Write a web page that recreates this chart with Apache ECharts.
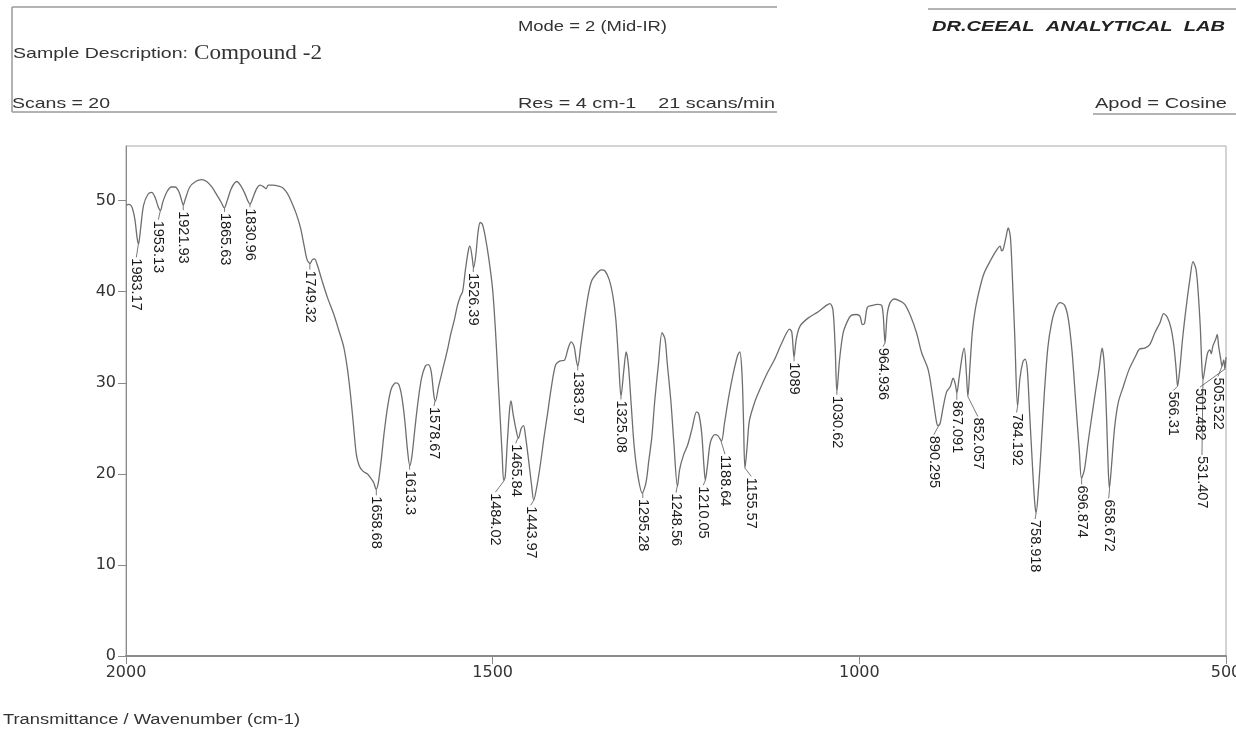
<!DOCTYPE html>
<html><head><meta charset="utf-8">
<script src="https://cdn.jsdelivr.net/npm/echarts@6/dist/echarts.min.js"></script>
<style>html,body{margin:0;padding:0;background:#fff;}#c{width:1236px;height:731px;}</style>
</head><body><div id="c"></div>
<script>
// ---- data ----
const wavenumbers = [2000,1996,1992,1988,1985,1983,1980,1976,1970,1965,1960,1956,1953,1950,1944,1938,1933,1928,1924,1922,1919,1913,1905,1897,1890,1883,1876,1870,1866,1862,1856,1849,1844,1838,1834,1831,1827,1822,1817,1812,1809,1806,1800,1792,1786,1780,1775,1768,1762,1757,1753,1749,1746,1743,1739,1733,1725,1717,1710,1703,1698,1694,1690,1686,1682,1677,1671,1666,1662,1659,1656,1652,1648,1643,1638,1632,1628,1624,1620,1616,1613,1610,1606,1602,1597,1592,1588,1584,1580,1578,1574,1568,1562,1557,1552,1548,1544,1541,1537,1533,1531,1528,1526,1523,1520,1517,1514,1510,1505,1500,1496,1493,1490,1487,1485,1483,1480,1477,1475,1472,1468,1465,1461,1458,1455,1451,1447,1444,1440,1435,1430,1425,1420,1414,1408,1402,1397,1393,1389,1386,1384,1380,1375,1370,1365,1358,1352,1347,1341,1336,1332,1328,1325,1321,1318,1315,1311,1307,1302,1296,1291,1287,1283,1279,1274,1269,1265,1262,1257,1253,1248,1245,1240,1234,1228,1222,1219,1215,1212,1210,1207,1203,1197,1193,1188,1184,1178,1172,1166,1163,1160,1158,1156,1153,1150,1143,1136,1126,1116,1105,1095,1092,1089,1086,1081,1070,1056,1045,1040,1036,1033,1030.6,1027,1022,1016,1011,1004,999,996,993,989,982,975,969,966,964.9,962,958,952,945,938,930,922,915,906,900,895,893,890,886,881,876,872,869,867,864,860,857,854,852,849,846,842,836,830,822,815,808,806,804,800,797,794,791,788,784.2,781,777,774,771,768,764,761,759,756,752,748,743,738,732,726,720,715,710,705,700,697,693,688,683,678,673,669,666,663,661,659,656,652,647,640,632,624,618,611,604,597,590,585,580,575,571,568,566,563,559,554,549,545,541,538,535,533,531.4,528,525,522,520,518,514,512,510,507,505.5,503,501.5,500];
const transmittance = [49.5,49.6,49.3,48.0,46.0,45.2,47.0,49.5,50.7,50.9,50.3,49.3,48.9,49.8,51.0,51.5,51.5,51.0,50.0,49.5,50.2,51.5,52.1,52.3,52.1,51.5,50.6,49.8,49.2,50.0,51.4,52.1,51.7,50.8,50.0,49.6,50.3,51.3,51.7,51.5,51.3,51.7,51.7,51.6,51.4,50.8,50.0,48.6,47.0,45.0,43.5,43.1,43.5,43.6,42.9,41.3,39.3,37.6,35.8,33.9,31.5,28.8,25.5,22.2,20.9,20.3,20.0,19.5,19.0,18.3,19.0,21.5,24.5,27.5,29.4,30.0,29.8,28.5,26.0,22.5,20.9,22.0,25.0,27.8,30.5,31.8,32.0,31.3,28.5,28.0,29.5,31.5,33.5,35.4,37.0,38.5,39.5,40.0,42.5,44.6,45.0,43.8,42.6,44.0,46.5,47.6,47.4,46.0,43.5,40.2,35.5,31.0,26.5,22.0,19.3,19.6,23.5,27.0,28.0,26.5,24.8,23.9,25.0,25.3,24.0,21.5,18.8,17.1,18.5,21.0,24.0,26.7,29.5,32.0,32.4,32.5,33.8,34.5,34.0,32.5,31.8,34.0,36.9,39.5,41.2,42.0,42.4,42.3,41.3,39.5,36.9,32.0,28.5,31.5,33.4,32.0,27.5,23.0,19.8,17.9,19.0,21.5,24.0,28.0,32.0,35.5,34.8,32.2,28.0,23.5,18.6,20.5,22.0,23.2,25.0,26.8,26.6,24.5,21.0,19.3,21.0,23.5,24.3,24.2,23.6,25.5,28.5,31.0,33.0,33.4,31.0,26.0,20.6,23.0,25.8,27.8,29.2,31.0,32.5,34.5,35.9,35.5,32.8,34.8,36.2,37.1,37.8,38.5,38.7,38.0,34.0,29.0,32.5,35.5,36.8,37.4,37.5,37.3,36.4,36.5,38.3,38.5,38.6,38.4,35.5,34.4,37.5,38.8,39.2,39.0,38.6,37.3,35.5,33.3,31.4,28.5,25.8,25.3,25.5,27.2,29.0,29.6,30.5,29.8,28.9,30.5,32.8,33.8,31.0,28.5,32.0,35.5,38.0,40.3,42.0,43.3,44.3,45.0,44.5,44.6,46.0,47.0,46.0,41.0,35.0,27.4,30.5,32.3,32.6,31.5,27.0,21.0,17.0,15.7,18.0,23.0,28.5,33.8,36.5,38.2,38.8,38.5,37.0,33.5,28.0,22.5,19.5,20.5,23.5,26.3,29.0,31.5,33.8,32.0,26.5,21.5,18.4,21.0,25.0,27.8,29.6,31.5,32.8,33.7,33.8,34.2,35.5,36.6,37.6,37.2,36.0,34.0,31.5,29.6,31.5,35.0,38.5,41.5,43.3,42.5,40.0,36.0,32.0,30.3,32.0,33.3,33.6,33.2,34.0,34.8,35.3,34.0,32.5,31.8,32.5,31.5,32.8];

const peakLabels = ['1983.17','1953.13','1921.93','1865.63','1830.96','1749.32','1658.68','1613.3','1578.67','1526.39','1484.02','1465.84','1443.97','1383.97','1325.08','1295.28','1248.56','1210.05','1188.64','1155.57','1089','1030.62','964.936','890.295','867.091','852.057','784.192','758.918','696.874','658.672','566.31','531.407','505.522','501.482'];
const peakWavenumbers = [1983.17,1953.13,1921.93,1865.63,1830.96,1749.32,1658.68,1613.3,1578.67,1526.39,1484.02,1465.84,1443.97,1383.97,1325.08,1295.28,1248.56,1210.05,1188.64,1155.57,1089,1030.62,964.936,890.295,867.091,852.057,784.192,758.918,696.874,658.672,566.31,531.407,505.522,501.482];
const peakTransmittance = [45.2,48.9,49.5,49.2,49.6,43.1,18.3,20.9,28.0,42.6,19.3,23.9,17.1,31.8,28.5,17.9,18.6,19.3,23.6,20.6,32.8,29.0,34.4,25.5,28.9,28.5,27.4,15.7,19.5,18.4,29.6,30.3,31.8,31.5];

const xTickValues = [2000,1500,1000,500];
const yTickValues = [0,10,20,30,40,50];

// ---- label placement styling (pixel offsets from the marked point) ----
const labelOffsets = {
  '1983.17':[-2,13],'1953.13':[-2,9],'1921.93':[0,5],'1865.63':[0,4],'1830.96':[0,3],'1749.32':[0,6],
  '1658.68':[0,6],'1613.3':[0,4],'1578.67':[-1,5],'1526.39':[0,4],'1484.02':[-9,12],'1465.84':[-2,5],
  '1443.97':[-3,5],'1383.97':[0,4],'1325.08':[0,3],'1295.28':[0,5],'1248.56':[-1,6],'1210.05':[-2,5],
  '1188.64':[4,13],'1155.57':[6,8],'1089':[0,4],'1030.62':[0,3],'964.936':[-2,4],'890.295':[-6,11],
  '867.091':[0,7],'852.057':[10,20],'784.192':[-1,6],'758.918':[-1,6],'696.874':[0,6],'658.672':[-1,10],
  '566.31':[-4,4],'531.407':[-1,75],'505.522':[-4,10],'501.482':[-25,18]
};

const chart = echarts.init(document.getElementById('c'), null, {renderer:'canvas'});
const mctx = document.createElement('canvas').getContext('2d');
function fitText(text, font, x0, x1, y, fill){
  mctx.font = font;
  const w = mctx.measureText(text).width;
  return {type:'text', x:x0, y:y, scaleX:(x1-x0)/w, silent:true,
    style:{text:text, font:font, fill:fill||'#333', align:'left', verticalAlign:'middle'}};
}
function hline(x1,y,x2,w){return {type:'line', silent:true, shape:{x1:x1,y1:y,x2:x2,y2:y}, style:{stroke:'#9a9a9a', lineWidth:w||1.5}};}

const SANS = '"Liberation Sans", Arial, sans-serif';
const graphics = [
  hline(12,7,777), hline(12,112,777),
  {type:'line', silent:true, shape:{x1:12,y1:7,x2:12,y2:112}, style:{stroke:'#9a9a9a', lineWidth:1.5}},
  hline(928,9,1236), hline(1093,114,1236),
  fitText('Mode = 2 (Mid-IR)', '15px '+SANS, 518, 667, 27),
  fitText('DR.CEEAL  ANALYTICAL  LAB', 'italic bold 15px '+SANS, 932, 1225, 27, '#222'),
  fitText('Sample Description:', '15px '+SANS, 13, 188, 54),
  fitText('Compound -2', '20px "Liberation Serif", "Times New Roman", serif', 194, 322, 54),
  fitText('Scans = 20', '15px '+SANS, 12, 110, 104),
  fitText('Res = 4 cm-1    21 scans/min', '15px '+SANS, 518, 775, 104),
  fitText('Apod = Cosine', '15px '+SANS, 1095, 1227, 104),
  fitText('Transmittance / Wavenumber (cm-1)', '14px '+SANS, 3, 300, 720)
];

const option = {
  animation:false,
  backgroundColor:'#fff',
  grid:{left:126, right:10, top:146, bottom:75, outerBoundsMode:'none', containLabel:false,
    show:true, borderColor:'#a8a8a8', borderWidth:1},
  xAxis:{type:'value', min:500, max:2000, interval:500, inverse:true,
    axisLine:{show:true, onZero:false, lineStyle:{color:'#8a8a8a', width:2}},
    axisTick:{show:true, length:8, lineStyle:{color:'#8a8a8a', width:1}},
    axisLabel:{show:true, margin:9, color:'#333', fontSize:16, fontFamily:'"DejaVu Sans", sans-serif',
      customValues:xTickValues, formatter:v=>String(v), hideOverlap:false},
    splitLine:{show:false}},
  yAxis:{type:'value', min:0, max:56, interval:10,
    axisLine:{show:true, onZero:false, lineStyle:{color:'#8a8a8a', width:1}},
    axisTick:{show:true, length:8, customValues:yTickValues, lineStyle:{color:'#8a8a8a'}},
    axisLabel:{show:true, margin:10, color:'#333', fontSize:16, fontFamily:'"DejaVu Sans", sans-serif',
      customValues:yTickValues, formatter:v=>(v%10===0?String(v):'')},
    splitLine:{show:false}},
  graphic:graphics,
  series:[
    {type:'line', silent:true, showSymbol:false, smooth:0.3,
      data:wavenumbers.map((w,i)=>[w, transmittance[i]]),
      lineStyle:{color:'#6e6e6e', width:1.3}},
    {type:'custom', silent:true, clip:false,
      encode:{x:0, y:1},
      data:peakWavenumbers.map((w,i)=>[w, peakTransmittance[i], i]),
      renderItem:function(params, api){
        const i = api.value(2);
        const p = api.coord([api.value(0), api.value(1)]);
        const t = peakLabels[i];
        const off = labelOffsets[t] || [0,5];
        const lx = p[0]+off[0], ly = p[1]+off[1];
        return {type:'group', children:[
          {type:'line', shape:{x1:p[0], y1:p[1], x2:lx, y2:ly}, style:{stroke:'#555', lineWidth:0.8}},
          {type:'text', x:lx, y:ly+1, rotation:-Math.PI/2,
            style:{text:t, font:'14.5px '+SANS, fill:'#1a1a1a', align:'left', verticalAlign:'middle'}}
        ]};
      }}
  ]
};
chart.setOption(option);
</script></body></html>
